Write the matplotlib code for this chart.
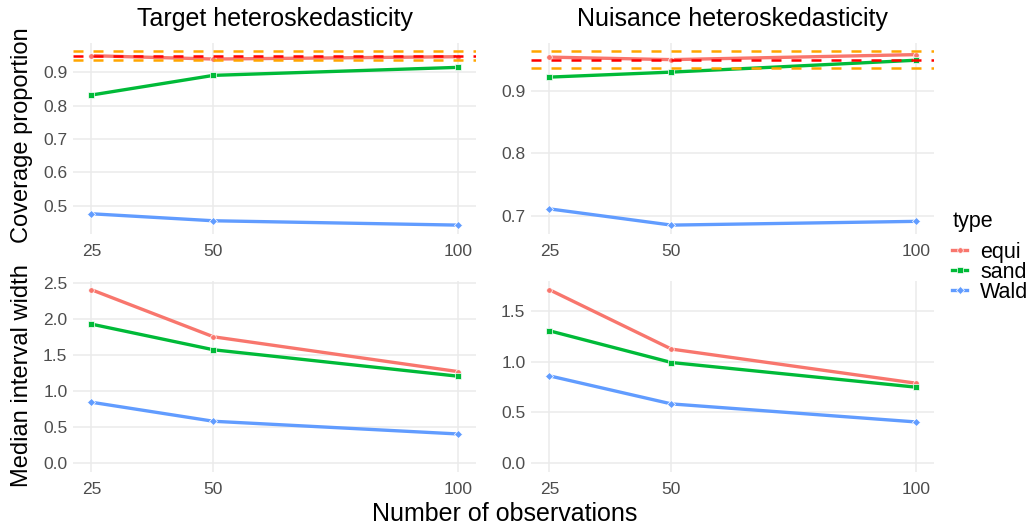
import matplotlib
matplotlib.use("Agg")
import matplotlib.pyplot as plt
from matplotlib.lines import Line2D
import numpy as np

plt.rcParams['font.family'] = ['Liberation Sans', 'DejaVu Sans']

n_obs = [25, 50, 100]
types = ["equi", "sand", "Wald"]
colors = {"equi": "#F8766D", "sand": "#00BA38", "Wald": "#619CFF"}
markers = {"equi": "o", "sand": "s", "Wald": "D"}

facets = ["Target heteroskedasticity", "Nuisance heteroskedasticity"]

coverage_target = {
    "equi": [0.950, 0.940, 0.947],
    "sand": [0.832, 0.891, 0.915],
    "Wald": [0.476, 0.455, 0.442],
}
coverage_nuisance = {
    "equi": [0.954, 0.950, 0.958],
    "sand": [0.922, 0.930, 0.949],
    "Wald": [0.711, 0.685, 0.691],
}
width_target = {
    "equi": [2.407, 1.754, 1.272],
    "sand": [1.930, 1.574, 1.208],
    "Wald": [0.847, 0.583, 0.407],
}
width_nuisance = {
    "equi": [1.707, 1.123, 0.788],
    "sand": [1.303, 0.991, 0.749],
    "Wald": [0.860, 0.584, 0.407],
}
nominal = 0.95
band_low = 0.9365
band_high = 0.9635

yticks_cov = [[0.5, 0.6, 0.7, 0.8, 0.9], [0.7, 0.8, 0.9]]
yticks_wid = [[0.0, 0.5, 1.0, 1.5, 2.0, 2.5], [0.0, 0.5, 1.0, 1.5]]

W, H = 1032, 524
fig = plt.figure(figsize=(W / 100, H / 100), dpi=100)

def px_axes(x0, y0, x1, y1):
    return fig.add_axes([x0 / W, 1 - y1 / H, (x1 - x0) / W, (y1 - y0) / H])

grid_c = "#EBEBEB"
tick_c = "#4D4D4D"

def style(ax, yticks, ylim):
    ax.set_facecolor("white")
    for s in ax.spines.values():
        s.set_visible(False)
    ax.set_xticks(n_obs)
    ax.set_xticklabels([str(v) for v in n_obs])
    ax.set_yticks(yticks)
    ax.set_yticklabels([f"{v:.1f}" for v in yticks])
    ax.tick_params(length=0, labelsize=12.5, colors=tick_c, pad=4)
    ax.tick_params(axis="x", pad=7)
    ax.grid(True, color=grid_c, linewidth=1.1)
    ax.set_axisbelow(True)
    lo, hi = 25, 100
    r = hi - lo
    ax.set_xlim(lo - 0.05 * r, hi + 0.05 * r)
    ax.set_ylim(*ylim)

def expand(vals):
    lo, hi = min(vals), max(vals)
    r = hi - lo
    return (lo - 0.05 * r, hi + 0.05 * r)

xs = [(73, 476), (531, 934)]
top_y = (42.5, 233.8)
bot_y = (281, 472)

cov_data = [coverage_target, coverage_nuisance]
wid_data = [width_target, width_nuisance]
dash = (0, (4, 4))

for i in range(2):
    # coverage
    ax = px_axes(xs[i][0], top_y[0], xs[i][1], top_y[1])
    allv = [v for t in types for v in cov_data[i][t]] + [band_low, band_high]
    for t in types:
        ax.plot(n_obs, cov_data[i][t], color=colors[t], linewidth=2.4,
                marker=markers[t], markersize=4, markeredgecolor="white",
                markeredgewidth=0.5, solid_capstyle="butt", zorder=3)
    ax.axhline(nominal, color="red", linestyle=dash, linewidth=1.8, zorder=4)
    ax.axhline(band_low, color="orange", linestyle=dash, linewidth=1.8, zorder=4)
    ax.axhline(band_high, color="orange", linestyle=dash, linewidth=1.8, zorder=4)
    style(ax, yticks_cov[i], expand(allv))
    ax.set_title(facets[i], fontsize=18, color="black", pad=12)

    # width
    ax2 = px_axes(xs[i][0], bot_y[0], xs[i][1], bot_y[1])
    allv = [v for t in types for v in wid_data[i][t]] + [0.0]
    for t in types:
        ax2.plot(n_obs, wid_data[i][t], color=colors[t], linewidth=2.4,
                 marker=markers[t], markersize=4, markeredgecolor="white",
                 markeredgewidth=0.5, solid_capstyle="butt", zorder=3)
    style(ax2, yticks_wid[i], expand(allv))

fig.text(22 / W, 1 - 135 / H, "Coverage proportion", rotation=90, ha="center",
         va="center", fontsize=17)
fig.text(22 / W, 1 - 376 / H, "Median interval width", rotation=90, ha="center",
         va="center", fontsize=17)
fig.text(505 / W, 1 - 514 / H, "Number of observations", ha="center", va="center",
         fontsize=18)

fig.text(953 / W, 1 - 222 / H, "type", ha="left", va="center", fontsize=15.5)
handles = [Line2D([0], [0], color=colors[t], linewidth=2.4, marker=markers[t],
                  markersize=4, markeredgecolor="white", markeredgewidth=0.5)
           for t in types]
leg = fig.legend(handles, types, loc="upper left",
                 bbox_to_anchor=(952 / W, 1 - 242 / H), frameon=False,
                 fontsize=15.5, handlelength=0.7,
                 handletextpad=0.6, labelspacing=-0.05, borderaxespad=0,
                 borderpad=0)

fig.savefig("out.png", dpi=100, facecolor="white")
